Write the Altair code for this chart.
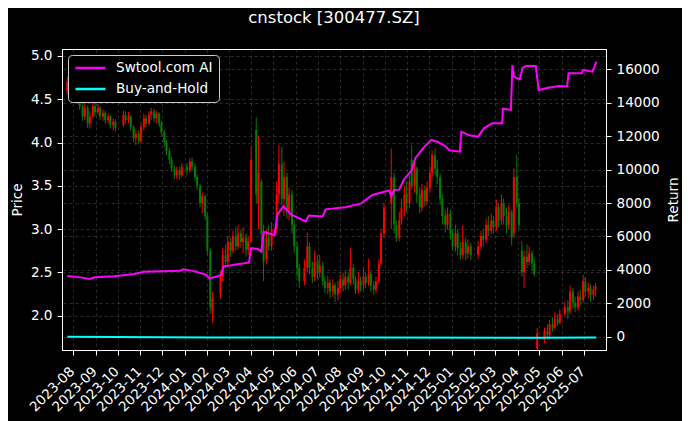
import altair as alt
import pandas as pd

FONT = "DejaVu Sans"

# ---------------- candle data (about two bars per week) ----------------
candle_dates = [
    "2023-07-24", "2023-07-27", "2023-07-31",
    "2023-08-03", "2023-08-07", "2023-08-10", "2023-08-14", "2023-08-17", "2023-08-21", "2023-08-24", "2023-08-28", "2023-08-31",
    "2023-09-04", "2023-09-07", "2023-09-11", "2023-09-14", "2023-09-18", "2023-09-21", "2023-09-25", "2023-09-28",
    "2023-10-09", "2023-10-12", "2023-10-16", "2023-10-19", "2023-10-23", "2023-10-26", "2023-10-30",
    "2023-11-02", "2023-11-06", "2023-11-09", "2023-11-13", "2023-11-16", "2023-11-20", "2023-11-23", "2023-11-27", "2023-11-30",
    "2023-12-04", "2023-12-07", "2023-12-11", "2023-12-14", "2023-12-18", "2023-12-21", "2023-12-25", "2023-12-28",
    "2024-01-04", "2024-01-08", "2024-01-11", "2024-01-15", "2024-01-18", "2024-01-22", "2024-01-25", "2024-01-29",
    "2024-02-01", "2024-02-05", "2024-02-08", "2024-02-19", "2024-02-22", "2024-02-26", "2024-02-29",
    "2024-03-04", "2024-03-07", "2024-03-11", "2024-03-14", "2024-03-18", "2024-03-21", "2024-03-25", "2024-03-28",
    "2024-04-01", "2024-04-08", "2024-04-11", "2024-04-15", "2024-04-18", "2024-04-22", "2024-04-25", "2024-04-29",
    "2024-05-06", "2024-05-09", "2024-05-13", "2024-05-16", "2024-05-20", "2024-05-23", "2024-05-27", "2024-05-30",
    "2024-06-03", "2024-06-06", "2024-06-13", "2024-06-17", "2024-06-20", "2024-06-24", "2024-06-27",
    "2024-07-01", "2024-07-04", "2024-07-08", "2024-07-11", "2024-07-15", "2024-07-18", "2024-07-22", "2024-07-25", "2024-07-29",
    "2024-08-01", "2024-08-05", "2024-08-08", "2024-08-12", "2024-08-15", "2024-08-19", "2024-08-22", "2024-08-26", "2024-08-29",
    "2024-09-02", "2024-09-05", "2024-09-09", "2024-09-12", "2024-09-16", "2024-09-19", "2024-09-23", "2024-09-26", "2024-09-30",
    "2024-10-10", "2024-10-14", "2024-10-17", "2024-10-21", "2024-10-24", "2024-10-28", "2024-10-31",
    "2024-11-04", "2024-11-07", "2024-11-11", "2024-11-14", "2024-11-18", "2024-11-21", "2024-11-25", "2024-11-28",
    "2024-12-02", "2024-12-05", "2024-12-09", "2024-12-12", "2024-12-16", "2024-12-19", "2024-12-23", "2024-12-26", "2024-12-30",
    "2025-01-02", "2025-01-06", "2025-01-09", "2025-01-13", "2025-01-16", "2025-01-20", "2025-01-23", "2025-01-27",
    "2025-02-06", "2025-02-10", "2025-02-13", "2025-02-17", "2025-02-20", "2025-02-24", "2025-02-27",
    "2025-03-03", "2025-03-06", "2025-03-10", "2025-03-13", "2025-03-17", "2025-03-20", "2025-03-24", "2025-03-27", "2025-03-31",
    "2025-04-03", "2025-04-07", "2025-04-10", "2025-04-14", "2025-04-17", "2025-04-21", "2025-04-24", "2025-04-28",
    "2025-05-08", "2025-05-12", "2025-05-15", "2025-05-19", "2025-05-22", "2025-05-26", "2025-05-29",
    "2025-06-05", "2025-06-09", "2025-06-12", "2025-06-16", "2025-06-19", "2025-06-23", "2025-06-26", "2025-06-30",
    "2025-07-03", "2025-07-07", "2025-07-10", "2025-07-14", "2025-07-17",
]

candle_open = [
    4.60, 4.68, 4.62,
    4.85, 4.62, 4.50, 4.42, 4.30, 4.40, 4.22, 4.30, 4.42,
    4.35, 4.40, 4.30, 4.34, 4.26, 4.30, 4.20, 4.24,
    4.20, 4.32, 4.26, 4.30, 4.18, 4.05, 4.10,
    4.02, 4.18, 4.28, 4.22, 4.32, 4.36, 4.28, 4.33, 4.22,
    4.12, 4.00, 3.90, 3.80, 3.70, 3.62, 3.68, 3.62,
    3.72, 3.68, 3.78, 3.72, 3.60, 3.50, 3.30, 3.38,
    3.15, 2.75, 2.05, 2.25, 2.45, 2.70, 2.62,
    2.85, 2.75, 2.92, 2.80, 2.95, 2.85, 2.90, 2.76,
    2.86, 4.15, 3.30, 3.55, 2.95, 2.65, 2.90, 2.80,
    3.00, 3.40, 3.75, 3.35, 3.60, 3.20, 3.40, 3.05,
    2.80, 2.55, 2.40, 2.55, 2.80, 2.55, 2.45,
    2.62, 2.50, 2.58, 2.40, 2.32, 2.38, 2.28, 2.35, 2.25,
    2.32, 2.42, 2.35, 2.45, 2.38, 2.55, 2.42, 2.30, 2.40,
    2.35, 2.45, 2.38, 2.48, 2.35, 2.30, 2.40, 2.60, 2.95,
    3.30, 3.60, 3.05, 2.90, 3.10, 3.25, 3.40,
    3.30, 3.80, 3.50, 3.70, 3.40, 3.25, 3.45, 3.32,
    3.48, 3.65, 3.85, 3.70, 3.60, 3.35, 3.15, 3.05, 3.18,
    2.95, 2.80, 2.95, 2.78, 2.70, 2.85, 2.72, 2.80,
    2.70, 2.80, 2.92, 2.88, 3.05, 2.98, 3.10,
    3.02, 3.25, 3.10, 3.30, 3.15, 3.05, 3.20, 2.95, 3.60,
    3.30, 2.75, 2.50, 2.68, 2.62, 2.72, 2.60, 1.62,
    1.72, 1.82, 1.78, 1.90, 1.86, 1.96, 1.92,
    2.02, 2.10, 2.05, 2.28, 2.15, 2.10, 2.22, 2.18,
    2.40, 2.28, 2.32, 2.24, 2.30,
]

candle_close = [
    4.70, 4.62, 4.85,
    4.62, 4.50, 4.42, 4.30, 4.40, 4.22, 4.30, 4.42, 4.35,
    4.40, 4.30, 4.34, 4.26, 4.30, 4.20, 4.24, 4.17,
    4.32, 4.26, 4.30, 4.18, 4.05, 4.10, 4.02,
    4.18, 4.28, 4.22, 4.32, 4.36, 4.28, 4.33, 4.22, 4.12,
    4.00, 3.90, 3.80, 3.70, 3.62, 3.68, 3.62, 3.72,
    3.68, 3.78, 3.72, 3.60, 3.50, 3.30, 3.38, 3.15,
    2.75, 2.10, 2.20, 2.45, 2.70, 2.62, 2.85,
    2.75, 2.92, 2.80, 2.95, 2.85, 2.90, 2.76, 2.86,
    3.80, 3.40, 3.65, 2.95, 2.62, 2.90, 2.80, 3.00,
    3.40, 3.75, 3.35, 3.60, 3.20, 3.40, 3.05, 2.80,
    2.55, 2.40, 2.55, 2.80, 2.55, 2.45, 2.62,
    2.50, 2.58, 2.40, 2.32, 2.38, 2.28, 2.35, 2.25, 2.32,
    2.42, 2.35, 2.45, 2.38, 2.55, 2.42, 2.30, 2.40, 2.35,
    2.45, 2.38, 2.48, 2.35, 2.30, 2.40, 2.60, 2.95, 3.25,
    3.60, 3.05, 2.90, 3.10, 3.25, 3.40, 3.30,
    3.55, 3.50, 3.70, 3.40, 3.25, 3.45, 3.32, 3.48,
    3.65, 3.85, 3.70, 3.60, 3.35, 3.15, 3.05, 3.18, 2.95,
    2.80, 2.95, 2.78, 2.70, 2.85, 2.72, 2.80, 2.70,
    2.80, 2.92, 2.88, 3.05, 2.98, 3.10, 3.02,
    3.25, 3.10, 3.30, 3.15, 3.05, 3.20, 2.90, 3.60, 3.30,
    3.05, 2.50, 2.68, 2.62, 2.72, 2.60, 2.48, 1.80,
    1.82, 1.78, 1.90, 1.86, 1.96, 1.92, 2.02,
    2.10, 2.05, 2.28, 2.15, 2.10, 2.22, 2.18, 2.40,
    2.28, 2.32, 2.24, 2.30, 2.34,
]

candle_high = [
    4.76, 4.72, 4.95,
    4.88, 4.66, 4.55, 4.46, 4.48, 4.43, 4.36, 4.48, 4.46,
    4.45, 4.42, 4.38, 4.37, 4.34, 4.32, 4.28, 4.27,
    4.37, 4.36, 4.35, 4.32, 4.20, 4.15, 4.14,
    4.22, 4.33, 4.32, 4.36, 4.40, 4.39, 4.37, 4.35, 4.25,
    4.15, 4.03, 3.94, 3.83, 3.73, 3.72, 3.72, 3.76,
    3.76, 3.82, 3.83, 3.76, 3.63, 3.52, 3.42, 3.40,
    3.18, 2.78, 2.28, 2.52, 2.78, 2.82, 2.92,
    2.90, 2.98, 3.02, 3.05, 3.00, 3.02, 2.95, 2.92,
    3.95, 4.29, 4.08, 3.58, 3.05, 3.00, 3.05, 3.08,
    3.55, 3.97, 3.95, 3.78, 3.65, 3.48, 3.45, 3.10,
    2.85, 2.60, 2.65, 2.96, 2.85, 2.62, 2.75,
    2.70, 2.70, 2.62, 2.45, 2.46, 2.42, 2.42, 2.38, 2.40,
    2.48, 2.50, 2.52, 2.50, 2.78, 2.60, 2.46, 2.50, 2.45,
    2.55, 2.50, 2.66, 2.52, 2.40, 2.45, 2.65, 3.00, 3.30,
    3.93, 3.65, 3.10, 3.20, 3.35, 3.50, 3.55,
    3.62, 3.97, 3.78, 3.72, 3.48, 3.52, 3.50, 3.55,
    3.72, 3.91, 3.93, 3.80, 3.64, 3.40, 3.22, 3.25, 3.22,
    3.00, 3.05, 3.00, 2.85, 3.05, 2.90, 2.88, 2.84,
    2.86, 2.98, 3.00, 3.12, 3.15, 3.18, 3.15,
    3.34, 3.30, 3.40, 3.35, 3.25, 3.28, 3.22, 3.70, 3.86,
    3.36, 2.86, 2.75, 2.82, 2.80, 2.75, 2.66, 1.86,
    1.86, 1.90, 1.95, 1.98, 2.04, 2.02, 2.08,
    2.16, 2.18, 2.35, 2.32, 2.22, 2.28, 2.30, 2.47,
    2.45, 2.38, 2.36, 2.35, 2.38,
]

candle_low = [
    4.55, 4.58, 4.60,
    4.58, 4.45, 4.38, 4.25, 4.26, 4.17, 4.16, 4.28, 4.30,
    4.32, 4.26, 4.25, 4.22, 4.22, 4.16, 4.14, 4.13,
    4.18, 4.22, 4.22, 4.14, 4.00, 3.97, 3.98,
    4.00, 4.14, 4.18, 4.20, 4.26, 4.24, 4.22, 4.18, 4.08,
    3.95, 3.85, 3.75, 3.66, 3.58, 3.58, 3.57, 3.60,
    3.62, 3.65, 3.68, 3.56, 3.45, 3.25, 3.18, 3.10,
    2.70, 2.02, 1.92, 2.20, 2.40, 2.55, 2.58,
    2.68, 2.72, 2.75, 2.76, 2.78, 2.72, 2.68, 2.70,
    2.84, 3.30, 3.00, 2.85, 2.40, 2.60, 2.75, 2.75,
    2.95, 3.30, 3.28, 3.15, 3.12, 3.10, 2.95, 2.72,
    2.45, 2.32, 2.35, 2.50, 2.48, 2.38, 2.40,
    2.42, 2.44, 2.35, 2.26, 2.25, 2.20, 2.22, 2.16, 2.18,
    2.26, 2.28, 2.30, 2.30, 2.35, 2.36, 2.25, 2.26, 2.28,
    2.30, 2.32, 2.34, 2.28, 2.24, 2.26, 2.38, 2.58, 2.90,
    3.00, 2.95, 2.85, 2.86, 3.05, 3.15, 3.20,
    3.25, 3.45, 3.42, 3.30, 3.18, 3.20, 3.26, 3.28,
    3.42, 3.60, 3.62, 3.52, 3.28, 3.05, 2.96, 3.00, 2.88,
    2.75, 2.74, 2.70, 2.65, 2.66, 2.64, 2.66, 2.64,
    2.66, 2.76, 2.80, 2.84, 2.92, 2.94, 2.95,
    2.98, 3.02, 3.05, 3.05, 2.95, 3.00, 2.81, 2.90, 3.25,
    3.00, 2.45, 2.32, 2.55, 2.58, 2.52, 2.45, 1.55,
    1.68, 1.74, 1.75, 1.82, 1.84, 1.88, 1.90,
    1.98, 1.96, 2.02, 2.08, 2.04, 2.06, 2.12, 2.15,
    2.22, 2.20, 2.16, 2.18, 2.22,
]

# ---------------- strategy return series ----------------
ai_dates = [
    "2023-07-24", "2023-08-11", "2023-08-24", "2023-08-31", "2023-09-27", "2023-10-24", "2023-11-06",
    "2023-12-03", "2023-12-26", "2023-12-30", "2024-01-12", "2024-01-30", "2024-02-04", "2024-02-15",
    "2024-02-20", "2024-02-23", "2024-03-13", "2024-03-29", "2024-04-01", "2024-04-10", "2024-04-15",
    "2024-04-18", "2024-05-03", "2024-05-07", "2024-05-15", "2024-05-26", "2024-06-15", "2024-06-19",
    "2024-07-08", "2024-07-12", "2024-08-08", "2024-08-30", "2024-09-14", "2024-10-07", "2024-10-10",
    "2024-10-14", "2024-10-21", "2024-10-27", "2024-11-07", "2024-11-12", "2024-11-23", "2024-12-04",
    "2024-12-13", "2024-12-23", "2024-12-29", "2025-01-12", "2025-01-14", "2025-01-25", "2025-02-06",
    "2025-02-14", "2025-02-25", "2025-03-11", "2025-03-12", "2025-03-23", "2025-03-25", "2025-03-27",
    "2025-04-04", "2025-04-08", "2025-04-13", "2025-04-26", "2025-04-30", "2025-05-13", "2025-05-28",
    "2025-06-08", "2025-06-10", "2025-06-28", "2025-06-30", "2025-07-13", "2025-07-18",
]
ai_values = [
    3630, 3550, 3450, 3560, 3620, 3750, 3880,
    3920, 3950, 4030, 3940, 3720, 3490, 3620,
    3690, 4200, 4330, 4430, 5300, 5250, 5090,
    6280, 6080, 7300, 7800, 7300, 6900, 7250,
    7200, 7620, 7750, 7980, 8480, 8750, 8400,
    8780, 8800, 9380, 9970, 10680, 11300, 11780,
    11650, 11400, 11150, 11070, 12270, 12050, 11970,
    12470, 12770, 12770, 13650, 13570, 16260, 15560,
    15400, 16080, 16200, 16200, 14760, 14900, 15000,
    14970, 15760, 15760, 15960, 15860, 16460,
]

bh_dates = ["2023-07-24", "2024-02-07", "2024-09-20", "2025-04-30", "2025-07-18"]
bh_values = [0, -55, -50, -62, -50]

series_names = ["Swtool.com AI", "Buy-and-Hold"]
series_colors = ["#ff00ff", "#00ffff"]

price_ticks = [2.0, 2.5, 3.0, 3.5, 4.0, 4.5, 5.0]
return_ticks = [0, 2000, 4000, 6000, 8000, 10000, 12000, 14000, 16000]
title_text = "cnstock [300477.SZ]"

assert len(candle_dates) == len(candle_open) == len(candle_close) == len(candle_high) == len(candle_low), (
    len(candle_dates), len(candle_open), len(candle_close), len(candle_high), len(candle_low))
assert len(ai_dates) == len(ai_values)

candles = pd.DataFrame({
    "date": candle_dates, "open": candle_open, "close": candle_close,
    "high": candle_high, "low": candle_low,
})
lines_df = pd.concat([
    pd.DataFrame({"date": ai_dates, "value": ai_values, "series": series_names[0]}),
    pd.DataFrame({"date": bh_dates, "value": bh_values, "series": series_names[1]}),
], ignore_index=True)

x_scale = alt.Scale(
    type="utc", nice=False,
    domain=[alt.DateTime(year=2023, month=7, date=23, hours=16, utc=True),
            alt.DateTime(year=2025, month=7, date=24, hours=10, utc=True)],
)
x_axis = alt.Axis(
    title=None,
    labelExpr="utcFormat(datum.value, '%Y-%m')",
    tickCount={"interval": "month", "step": 1},
    labelAngle=-45, labelAlign="right", labelBaseline="top",
    labelPadding=9, labelOffset=-6, labelOverlap=False, labelFlush=False, labelBound=False,
    grid=True,
)
x_enc = alt.X("date:T", scale=x_scale, axis=x_axis)

price_scale = alt.Scale(domain=[1.604, 5.08], nice=False, zero=False)
price_axis = alt.Axis(title="Price", orient="left", values=price_ticks, format=".1f",
                      grid=True, titlePadding=6)
ret_scale = alt.Scale(domain=[-796, 17217], nice=False, zero=False)
ret_axis = alt.Axis(title="Return", orient="right", values=return_ticks, format="d",
                    grid=True, titlePadding=21, titleAngle=270)

up_down = alt.condition("datum.close >= datum.open", alt.value("#ff0000"), alt.value("#008000"))

base = alt.Chart(candles).encode(x=x_enc)
wicks = base.mark_rule(strokeWidth=1, clip=True).encode(
    y=alt.Y("low:Q", scale=price_scale, axis=price_axis),
    y2="high:Q",
    color=up_down,
)
bodies = base.mark_bar(size=2, clip=True).encode(
    y=alt.Y("open:Q", scale=price_scale, axis=price_axis),
    y2="close:Q",
    color=up_down,
)
price_layer = alt.layer(wicks, bodies)

lines = alt.Chart(lines_df).mark_line(strokeWidth=2, clip=True).encode(
    x=x_enc,
    y=alt.Y("value:Q", scale=ret_scale, axis=ret_axis),
    color=alt.Color(
        "series:N",
        scale=alt.Scale(domain=series_names, range=series_colors),
        legend=alt.Legend(
            title=None, orient="none", legendX=6, legendY=6,
            symbolType="stroke", symbolSize=900, symbolStrokeWidth=2.5,
            clipHeight=14, rowPadding=7, labelOffset=9,
            labelFontSize=13.6, labelColor="white", labelFont=FONT,
            fillColor="black", strokeColor="#cccccc", cornerRadius=4, padding=6,
        ),
    ),
)

chart = alt.layer(price_layer, lines).resolve_scale(y="independent").properties(
    width=544, height=301,
    autosize=alt.AutoSizeParams(type="none"),
    padding={"left": 54, "top": 41, "right": 76, "bottom": 71},
    background="black",
    title=alt.TitleParams(
        text=title_text, color="white", font=FONT, fontSize=16.5, fontWeight="normal",
        anchor="middle", frame="group", baseline="alphabetic", offset=9,
    ),
).configure_view(
    stroke="white", strokeWidth=1,
).configure_axis(
    labelColor="white", labelFont=FONT, labelFontSize=13.6,
    titleColor="white", titleFont=FONT, titleFontSize=13.6, titleFontWeight="normal",
    tickColor="white", tickSize=5, domainColor="white", labelPadding=5,
    gridColor="#808080", gridOpacity=0.55, gridDash=[3, 3], gridWidth=0.6,
)

chart.save("out.html", embed_options={"renderer": "svg", "actions": False})
